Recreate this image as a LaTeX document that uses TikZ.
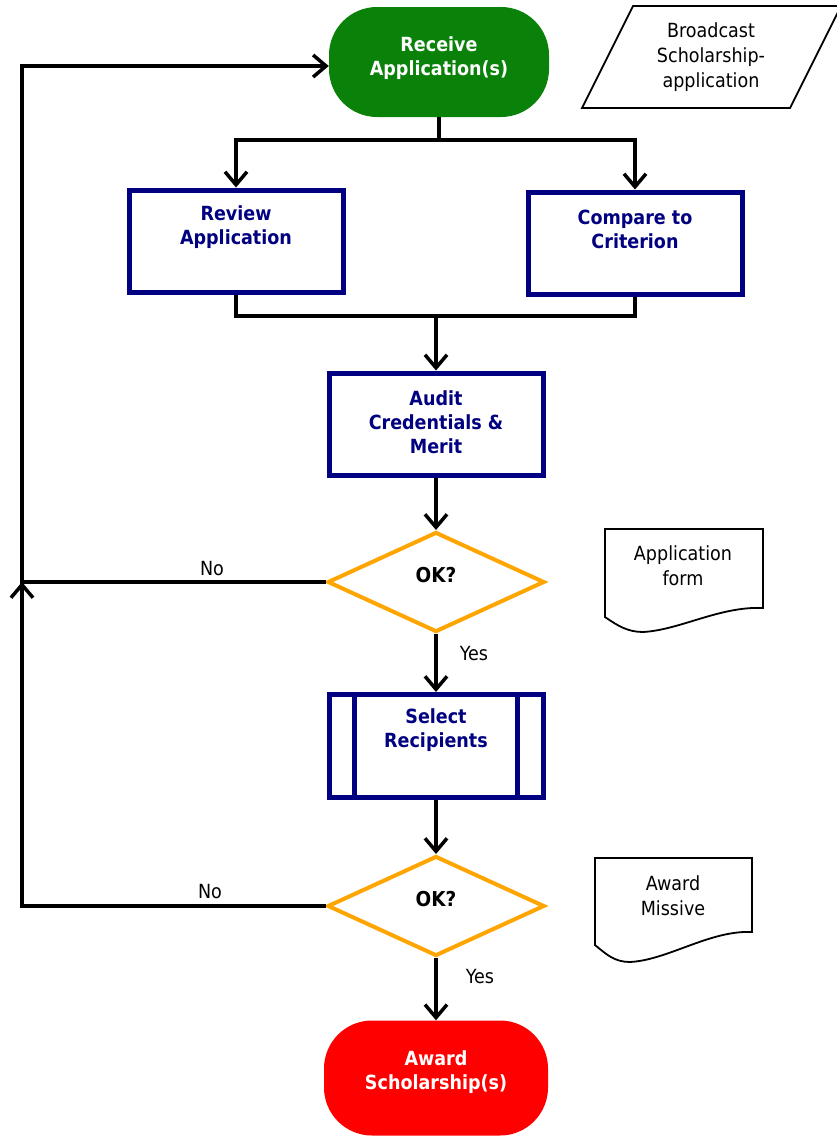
\documentclass[tikz,border=0pt]{standalone}
\usepackage{fontspec}
\setmainfont{DejaVu Sans Condensed}
\usetikzlibrary{shapes.geometric,arrows.meta}
\definecolor{navy}{RGB}{0,0,128}
\definecolor{termgreen}{RGB}{10,130,10}
\definecolor{termred}{RGB}{255,0,0}
\definecolor{okorange}{RGB}{255,165,0}
\tikzset{
  conn/.style={line width=3.5pt, draw=black},
  arr/.style={conn, -{Straight Barb[length=13pt,width=22pt,line width=3.5pt]}},
  term/.style={rectangle, rounded corners=48pt, inner sep=0pt, minimum width=220pt, minimum height=110pt},
  pbox/.style={rectangle, draw=navy, line width=5pt, fill=white, minimum width=214pt, minimum height=102pt, inner sep=0pt},
  dec/.style={diamond, draw=okorange, line width=4pt, fill=white, minimum width=217pt, minimum height=100pt, inner sep=0pt},
  btext/.style={align=center, font=\bfseries\fontsize{19.5}{24}\selectfont, text=navy},
  wtext/.style={align=center, font=\bfseries\fontsize{19.5}{24}\selectfont, text=white},
  ktext/.style={align=center, font=\bfseries\fontsize{20.5}{24}\selectfont, text=black},
  dtext/.style={align=center, font=\fontsize{19.5}{25}\selectfont, text=black},
  lbl/.style={font=\fontsize{19.5}{20}\selectfont, text=black, inner sep=1pt},
  docline/.style={draw=black, line width=1.8pt, line join=miter},
}
\begin{document}
\begin{tikzpicture}[x=1pt,y=-1pt]
\useasboundingbox[fill=white] (0,0) rectangle (836,1138);

% terminals
\node[term, fill=termgreen] (recv) at (439,62) {};
\node[wtext] (recv-t) at (439,58) {Receive\\Application(s)};
\node[term, fill=termred, minimum width=224pt, minimum height=115pt] (award) at (436,1078) {};
\node[wtext] (award-t) at (436,1072) {Award\\Scholarship(s)};

% process boxes
\node[pbox] (review) at (236,241) {};
\node[btext] (review-t) at (236,227) {Review\\Application};
\node[pbox] (compare) at (635,243) {};
\node[btext] (compare-t) at (635,229) {Compare to\\Criterion};
\node[pbox] (audit) at (436,424) {};
\node[btext] (audit-t) at (436,422) {Audit\\Credentials \&\\Merit};
\node[pbox, minimum height=103pt] (select) at (436,746) {};
\draw[navy, line width=5pt] ([xshift=28pt]select.north west) -- ([xshift=28pt]select.south west);
\draw[navy, line width=5pt] ([xshift=-28pt]select.north east) -- ([xshift=-28pt]select.south east);
\node[btext] (select-t) at (436,730) {Select\\Recipients};

% decisions
\node[dec] (ok1) at (436,582) {};
\node[ktext] (ok1-t) at (436,575) {OK?};
\node[dec] (ok2) at (436,906) {};
\node[ktext] (ok2-t) at (436,899) {OK?};

% side shapes
\draw[docline] (633,6) -- (841,6) -- (790,108) -- (582,108) -- cycle;
\node[dtext] (bcast) at (711,57) {Broadcast\\Scholarship-\\application};

\draw[docline] (605,617) -- (605,529) -- (763,529) -- (763,608)
  .. controls (720,606) and (680,630) .. (643,632)
  .. controls (628,632) and (618,626) .. (605,617) -- cycle;
\node[dtext] (appform) at (683,566) {Application\\form};

\draw[docline] (595,945) -- (595,858) -- (752,858) -- (752,932)
  .. controls (710,930) and (668,960) .. (630,962)
  .. controls (615,962) and (607,955) .. (595,945) -- cycle;
\node[dtext] (missive) at (673,896) {Award\\Missive};

% connectors
\coordinate (split) at (439,140);
\coordinate (merge) at (436,316);
\coordinate (lt) at (22,582);
\draw[conn] (recv.south) -- (split);
\draw[arr] (split) -| (review.north);
\draw[arr] (split) -| (compare.north);
\draw[conn] (review.south) |- (merge);
\draw[conn] (compare.south) |- (merge);
\draw[arr] (merge) -- (audit.north);
\draw[arr] (audit.south) -- (ok1.north);
\draw[arr] (ok1.west) -- (lt) |- ([yshift=-4pt]recv.west);
\draw[arr] (ok1.south) -- (select.north);
\draw[arr] (select.south) -- (ok2.north);
\draw[arr] (ok2.west) -| (lt);
\draw[arr] (ok2.south) -- (award.north);

% labels
\node[lbl, fill=white] (no1) at (212,569) {No};
\node[lbl] (yes1) at (474,654) {Yes};
\node[lbl, fill=white] (no2) at (210,892) {No};
\node[lbl] (yes2) at (480,977) {Yes};
\end{tikzpicture}
\end{document}
